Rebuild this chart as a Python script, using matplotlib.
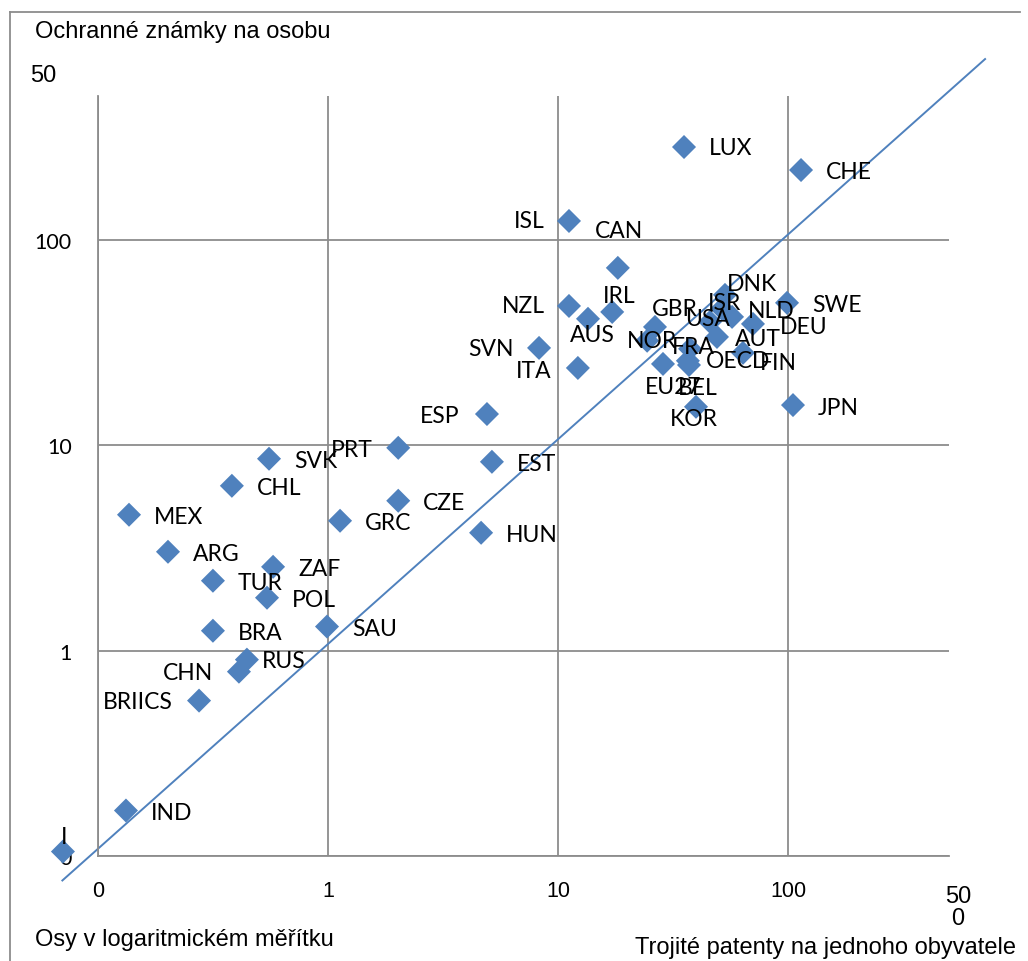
import matplotlib
matplotlib.use("Agg")
import matplotlib.pyplot as plt
from matplotlib.lines import Line2D

# ---------------- data ----------------
countries = ["LUX", "CHE", "ISL", "CAN", "DNK", "SWE", "NZL", "IRL", "AUS", "GBR",
             "ISR", "USA", "NLD", "DEU", "NOR", "AUT", "FRA", "OECD", "FIN", "EU27",
             "BEL", "KOR", "JPN", "SVN", "ITA", "ESP", "PRT", "EST", "SVK", "CHL",
             "CZE", "MEX", "GRC", "HUN", "ARG", "ZAF", "TUR", "POL", "SAU", "BRA",
             "RUS", "CHN", "BRIICS", "IND", "I"]
# triadic patents per inhabitant (x)
patents = [35.3, 113.9, 11.16, 18.2, 53.2, 99.0, 11.16, 17.2, 13.5, 26.4,
           51.6, 45.8, 57.1, 70.4, 24.4, 49.1, 37.5, 36.7, 63.7, 28.6,
           37.1, 39.8, 105.1, 8.27, 12.2, 4.91, 2.02, 5.16, 0.554, 0.382,
           2.02, 0.1364, 1.128, 4.63, 0.2015, 0.577, 0.316, 0.543, 0.99, 0.316,
           0.444, 0.410, 0.275, 0.1323, 0.0704]
# trademarks per person (y)
trademarks = [283.5, 219.0, 123.7, 73.1, 54.0, 49.4, 47.7, 44.6, 41.3, 37.7,
              46.2, 39.9, 42.2, 39.0, 32.3, 33.7, 29.5, 25.8, 28.2, 24.9,
              24.6, 15.4, 15.7, 29.8, 23.8, 14.2, 9.72, 8.31, 8.60, 6.35,
              5.37, 4.59, 4.29, 3.75, 3.03, 2.56, 2.19, 1.81, 1.31, 1.25,
              0.904, 0.790, 0.571, 0.1665, 0.1051]

# reference diagonal (drawn line)
line_x = [0.07, 719]
line_y = [0.076, 760]

x_ticks = [0.1, 1, 10, 100]
x_tick_labels = ["0", "1", "10", "100"]
y_ticks = [0.1, 1, 10, 100]
y_tick_labels = ["0", "1", "10", "100"]

title_y = "Ochranné známky na osobu"
title_x = "Trojité patenty na jednoho obyvatele"
note = "Osy v logaritmickém měřítku"

# ---------------- label placement (pixels offset, alignment) ----------------
default_pos = (25, -2, "left")
label_pos = {
    "LUX": (25, 0, "left"), "CHE": (25, -1, "left"),
    "ISL": (-24, 0, "right"), "CAN": (1, 37, "center"),
    "DNK": (2, 11, "left"), "NZL": (-24, 0, "right"),
    "IRL": (7, 16, "center"), "AUS": (4, -16, "center"),
    "GBR": (-3, 18, "left"), "ISR": (-14, 6, "left"),
    "USA": (-25, 3, "left"), "NLD": (16, 6, "left"),
    "DEU": (27, -3, "left"), "NOR": (-20, 0, "left"),
    "AUT": (18, -2, "left"), "FRA": (-18, 2, "left"),
    "OECD": (18, 0, "left"), "FIN": (17, -10, "left"),
    "EU27": (-18, -23, "left"), "BEL": (-11, -22, "left"),
    "KOR": (-26, -12, "left"), "SVN": (-25, -1, "right"),
    "ITA": (-26, -3, "right"), "ESP": (-27, -1, "right"),
    "PRT": (-25, -2, "right"), "CHN": (-26, -1, "right"),
    "BRIICS": (-26, -1, "right"), "RUS": (15, -1, "left"),
    "I": (1, 15, "center"),
}

W, H = 1028, 962
fig = plt.figure(figsize=(W / 100, H / 100), dpi=100)
ax = fig.add_axes([98 / W, 1 - 857 / H, (948.8 - 98) / W, (857 - 97.4) / H])
ax.set_xscale("log")
ax.set_yscale("log")
ax.set_xlim(0.1, 500)
ax.set_ylim(0.1, 500)

grid_c = "#8c8c8c"
blue = "#4F81BD"
label_font = ["Lato", "DejaVu Sans"]
arial = ["Liberation Sans", "DejaVu Sans"]

for s in ["top", "right"]:
    ax.spines[s].set_visible(False)
for s in ["left", "bottom"]:
    ax.spines[s].set_color(grid_c)
    ax.spines[s].set_linewidth(1.3)

ax.set_xticks(x_ticks)
ax.set_xticklabels(x_tick_labels, fontfamily=arial, fontsize=15.5)
ax.set_yticks(y_ticks)
ax.set_yticklabels(y_tick_labels, fontfamily=label_font, fontsize=15.5)
ax.minorticks_off()
ax.tick_params(axis="x", length=0, pad=17)
ax.tick_params(axis="y", length=0, pad=19)
ax.grid(True, color=grid_c, linewidth=1.3)
ax.set_axisbelow(True)

ax.plot(line_x, line_y, color=blue, linewidth=1.4, clip_on=False, zorder=2)
ax.scatter(patents, trademarks, marker="D", s=150, color=blue, edgecolor="none",
           zorder=3, clip_on=False)

for c, xv, yv in zip(countries, patents, trademarks):
    dx, dy, ha = label_pos.get(c, default_pos)
    ax.annotate(c, (xv, yv), xytext=(dx, dy), textcoords="offset pixels",
                ha=ha, va="center", fontsize=16.5, fontfamily=label_font,
                color="black", zorder=4, annotation_clip=False)

# extra labels / titles in figure pixel coordinates
def ftext(x, y, s, **kw):
    fig.text(x / W, 1 - y / H, s, **kw)

ftext(35, 32, title_y, fontsize=17, fontfamily=arial, va="center", ha="left")
ftext(30, 76, "50", fontsize=17, fontfamily=arial, va="center", ha="left")
ftext(958, 908, "50\n0", fontsize=17, fontfamily=arial, va="center", ha="center",
      linespacing=0.95)
ftext(35, 940, note, fontsize=17, fontfamily=arial, va="center", ha="left")
ftext(635, 948, title_x, fontsize=17, fontfamily=arial, va="center", ha="left")

# chart border (top and left visible)
fig.add_artist(Line2D([10 / W, 1020 / W], [1 - 13 / H, 1 - 13 / H],
                      color=grid_c, linewidth=1.3, transform=fig.transFigure))
fig.add_artist(Line2D([10 / W, 10 / W], [1 - 13 / H, 0],
                      color=grid_c, linewidth=1.3, transform=fig.transFigure))

fig.savefig("out.png", dpi=100, facecolor="white")
